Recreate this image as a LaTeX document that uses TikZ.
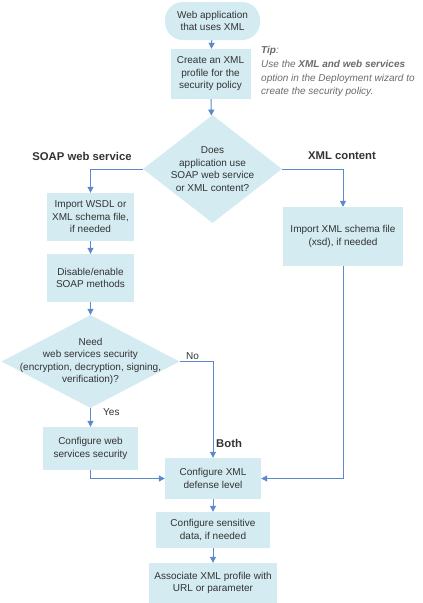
\documentclass[tikz,border=0pt]{standalone}
\usepackage{fontspec}
\setmainfont{Liberation Sans}
\usepackage{xcolor}
\usetikzlibrary{shapes.geometric,arrows.meta,positioning}
\definecolor{boxfill}{HTML}{D3EBF1}
\definecolor{flowline}{HTML}{5C88CC}
\definecolor{textdark}{HTML}{333333}
\definecolor{textmuted}{HTML}{6B6B6B}

\begin{document}
\begin{tikzpicture}[x=1pt,y=-1pt,
  blk/.style={rectangle,fill=boxfill,align=center,font=\fontsize{10}{12.5}\selectfont,
              text=textdark,inner sep=0pt},
  term/.style={blk,rounded corners=18pt},
  dia/.style={diamond,fill=boxfill,inner sep=0pt},
  txt/.style={align=center,font=\fontsize{10}{12.5}\selectfont,text=textdark,inner sep=0pt},
  head/.style={font=\fontsize{11.3}{13}\selectfont\bfseries,text=textdark,inner sep=0pt},
  flow/.style={draw=flowline,line width=1pt,-{Triangle[width=6pt,length=6pt]}},
  wire/.style={draw=flowline,line width=1pt}
]
\useasboundingbox (0,0) rectangle (423,603);
% start and profile
\node[term,minimum width=95pt,minimum height=38pt] (start) at (212.5,21) {Web application\\that uses XML};
\node[blk,minimum width=80pt,minimum height=50pt] (profile) at (210.5,74) {Create an XML\\profile for the\\security policy};
\node[anchor=north west,align=left,inner sep=0pt,font=\fontsize{10}{13.8}\selectfont\itshape,text=textmuted]
  (tip) at (261,46) {\textbf{Tip}:\\Use the \textbf{XML and web services}\\option in the Deployment wizard to\\create the security policy.};
% first decision
\node[dia,minimum width=139pt,minimum height=108pt] (q1) at (212.5,169) {};
\node[txt] (q1txt) at (q1) {Does\\application use\\SOAP web service\\or XML content?};
\node[head] (soap) at (82,156) {SOAP web service};
\node[head] (xmlc) at (342,156) {XML content};
% SOAP branch
\node[blk,minimum width=87pt,minimum height=48pt] (wsdl) at (90.5,217) {Import WSDL or\\XML schema file,\\if needed};
\node[blk,minimum width=87pt,minimum height=48pt] (soapm) at (90.5,278) {Disable/enable\\SOAP methods};
\node[dia,minimum width=178pt,minimum height=93pt] (q2) at (90.5,361.5) {};
\node[txt] (q2txt) at (q2) {Need\\web services security\\(encryption, decryption, signing,\\verification)?};
\node[blk,minimum width=95pt,minimum height=43pt] (websec) at (90.5,448.5) {Configure web\\services security};
% XML content branch
\node[blk,minimum width=120pt,minimum height=59pt] (xsd) at (343,236.5) {Import XML schema file\\(xsd), if needed};
% common steps
\node[blk,minimum width=96pt,minimum height=41pt] (defense) at (213,478.5) {Configure XML\\defense level};
\node[blk,minimum width=114pt,minimum height=36pt] (sens) at (213,530) {Configure sensitive\\data, if needed};
\node[blk,minimum width=128pt,minimum height=40pt] (assoc) at (213,583) {Associate XML profile with\\URL or parameter};
% labels
\node[txt,anchor=south west] (no) at (186,360) {No};
\node[txt,anchor=west] (yes) at (103,412) {Yes};
\node[head,anchor=west] (both) at (216,443) {Both};
% connectors
\draw[flow] (start) -- (profile);
\draw[flow] (profile) -- (q1);
\draw[flow] (q1.west) -| (wsdl.north);
\draw[flow] (q1.east) -| (xsd.north);
\draw[flow] (wsdl) -- (soapm);
\draw[flow] (soapm) -- (q2.north);
\draw[flow] (q2.south) -- (websec);
\draw[flow] (q2.east) -| (defense.north);
\draw[flow] (websec.south) |- (defense.west);
\draw[flow] (xsd.south) |- (defense.east);
\draw[flow] (defense) -- (sens);
\draw[flow] (sens) -- (assoc);
\end{tikzpicture}
\end{document}
